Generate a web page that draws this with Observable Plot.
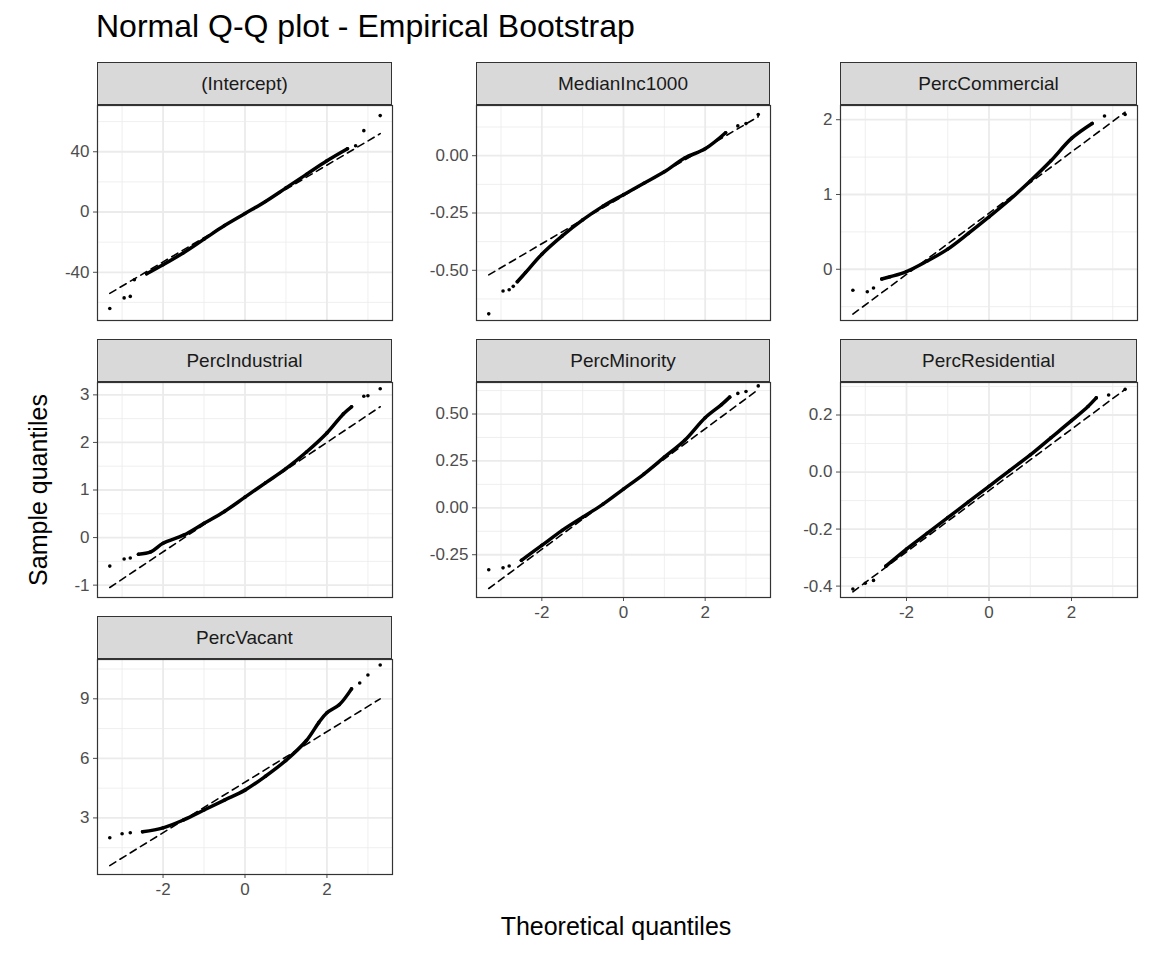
<!DOCTYPE html>
<html>
<head>
<meta charset="utf-8">
<script src="https://cdn.jsdelivr.net/npm/d3@7"></script>
<script src="https://cdn.jsdelivr.net/npm/@observablehq/plot@0.6"></script>
<style>
  body { margin: 0; background: #fff; font-family: "Liberation Sans", Arial, sans-serif; }
  #root { position: relative; width: 1152px; height: 960px; }
  .title { position: absolute; left: 96px; top: 8px; font-size: 32px; color: #000; }
  .xlab { position: absolute; left: 0; width: 1232px; top: 912px; text-align: center; font-size: 25px; }
  .ylab { position: absolute; left: 38px; top: 490px; font-size: 25px; transform: translate(-50%, -50%) rotate(-90deg); white-space: nowrap; }
  .strip { position: absolute; background: #d9d9d9; border: 1px solid #333; box-sizing: border-box;
           text-align: center; font-size: 19px; color: #1a1a1a; line-height: 41px; }
  .panel { position: absolute; }
</style>
</head>
<body>
<div id="root">
  <div class="title">Normal Q-Q plot - Empirical Bootstrap</div>
  <div class="ylab">Sample quantiles</div>
  <div class="xlab">Theoretical quantiles</div>
</div>
<script>
// ── data: theoretical quantile (x) vs sample quantile (y)
const PANELS = ["(Intercept)", "MedianInc1000", "PercCommercial", "PercIndustrial",
                "PercMinority", "PercResidential", "PercVacant"];

const interceptX = [-3.3, -2.95, -2.8, -2.7, -2.4, -2, -1.5, -1, -0.5, 0, 0.5, 1, 1.5, 2, 2.5, 2.7, 2.9, 3.3];
const interceptY = [-64, -57, -56, -45, -41, -35, -27, -18, -9, -1, 7, 16, 25, 34, 42, 44, 54, 64];
const interceptLine = [-54, 52];

const medianX = [-3.3, -2.95, -2.8, -2.7, -2.6, -2.4, -2, -1.5, -1, -0.5, 0, 0.5, 1, 1.5, 2, 2.5, 2.8, 3.0, 3.3];
const medianY = [-0.69, -0.59, -0.585, -0.57, -0.55, -0.51, -0.43, -0.35, -0.28, -0.22, -0.17, -0.12, -0.07, -0.01, 0.03, 0.10, 0.13, 0.14, 0.18];
const medianLine = [-0.52, 0.17];

const commercialX = [-3.3, -2.95, -2.8, -2.6, -2.4, -2, -1.5, -1, -0.5, 0, 0.5, 1, 1.5, 2, 2.5, 2.8, 3.3];
const commercialY = [-0.28, -0.30, -0.25, -0.13, -0.10, -0.03, 0.11, 0.27, 0.48, 0.70, 0.93, 1.18, 1.45, 1.75, 1.95, 2.05, 2.07];
const commercialLine = [-0.60, 2.10];

const industrialX = [-3.3, -2.95, -2.8, -2.6, -2.3, -2, -1.5, -1, -0.5, 0, 0.5, 1, 1.5, 2, 2.4, 2.6, 2.9, 3.0, 3.3];
const industrialY = [-0.60, -0.45, -0.43, -0.35, -0.30, -0.12, 0.05, 0.30, 0.55, 0.85, 1.15, 1.45, 1.80, 2.20, 2.60, 2.75, 2.97, 2.98, 3.13];
const industrialLine = [-1.05, 2.75];

const minorityX = [-3.3, -2.95, -2.8, -2.5, -2, -1.5, -1, -0.5, 0, 0.5, 1, 1.5, 2, 2.4, 2.6, 2.8, 3.0, 3.3];
const minorityY = [-0.33, -0.32, -0.31, -0.28, -0.20, -0.12, -0.05, 0.02, 0.10, 0.18, 0.27, 0.36, 0.48, 0.55, 0.59, 0.61, 0.62, 0.65];
const minorityLine = [-0.43, 0.63];

const residentialX = [-3.3, -3.0, -2.8, -2.5, -2, -1.5, -1, -0.5, 0, 0.5, 1, 1.5, 2, 2.4, 2.6, 2.9, 3.3];
const residentialY = [-0.41, -0.39, -0.38, -0.33, -0.27, -0.215, -0.16, -0.105, -0.05, 0.005, 0.06, 0.12, 0.18, 0.23, 0.26, 0.27, 0.29];
const residentialLine = [-0.42, 0.29];

const vacantX = [-3.3, -3.0, -2.8, -2.5, -2, -1.5, -1, -0.5, 0, 0.5, 1, 1.5, 1.8, 2, 2.3, 2.6, 2.8, 3.0, 3.3];
const vacantY = [2.0, 2.2, 2.25, 2.3, 2.5, 2.9, 3.4, 3.9, 4.4, 5.1, 5.9, 6.9, 7.8, 8.3, 8.7, 9.5, 9.8, 10.2, 10.7];
const vacantLine = [0.6, 9.0];

const LINE_X = [-3.3, 3.3];

const yTicks = {
  "(Intercept)": [-40, 0, 40],
  "MedianInc1000": [-0.5, -0.25, 0],
  "PercCommercial": [0, 1, 2],
  "PercIndustrial": [-1, 0, 1, 2, 3],
  "PercMinority": [-0.25, 0, 0.25, 0.5],
  "PercResidential": [-0.4, -0.2, 0, 0.2],
  "PercVacant": [3, 6, 9]
};
const yDomains = {
  "(Intercept)": [-72, 70.7],
  "MedianInc1000": [-0.719, 0.219],
  "PercCommercial": [-0.685, 2.19],
  "PercIndustrial": [-1.26, 3.26],
  "PercMinority": [-0.478, 0.668],
  "PercResidential": [-0.44, 0.314],
  "PercVacant": [0.15, 10.98]
};
const fmt = d3.formatLocale({decimal: ".", thousands: ",", grouping: [3], currency: ["", ""], minus: "-"}).format;
const yFormats = {
  "(Intercept)": fmt("d"),
  "MedianInc1000": fmt(".2f"),
  "PercCommercial": fmt("d"),
  "PercIndustrial": fmt("d"),
  "PercMinority": fmt(".2f"),
  "PercResidential": fmt(".1f"),
  "PercVacant": fmt("d")
};
const series = {
  "(Intercept)": [interceptX, interceptY, interceptLine],
  "MedianInc1000": [medianX, medianY, medianLine],
  "PercCommercial": [commercialX, commercialY, commercialLine],
  "PercIndustrial": [industrialX, industrialY, industrialLine],
  "PercMinority": [minorityX, minorityY, minorityLine],
  "PercResidential": [residentialX, residentialY, residentialLine],
  "PercVacant": [vacantX, vacantY, vacantLine]
};

// ── layout (pixels)
const COL_LEFT  = [97, 476, 840];
const COL_W     = [295, 294, 297];
const ROW_TOP   = [62, 339, 616];
const STRIP_H   = 43;
const PLOT_H    = 215;
const ML = 70;

const root = document.getElementById("root");

PANELS.forEach((name, i) => {
  const col = i % 3, row = Math.floor(i / 3);
  const showX = (row === 2) || (row === 1 && col > 0);
  const [xs, ys, ln] = series[name];
  const pts = xs.map((x, k) => ({x, y: ys[k]}));
  const core = pts.filter(d => Math.abs(d.x) < 2.65);
  const line = LINE_X.map((x, k) => ({x, y: ln[k]}));

  const strip = document.createElement("div");
  strip.className = "strip";
  strip.style.left = COL_LEFT[col] + "px";
  strip.style.top = ROW_TOP[row] + "px";
  strip.style.width = COL_W[col] + "px";
  strip.style.height = STRIP_H + "px";
  strip.textContent = name;
  root.appendChild(strip);

  const yd = yDomains[name];
  const yMinor = d3.pairs(yTicks[name]).map(([a, b]) => (a + b) / 2);
  const step = yTicks[name][1] - yTicks[name][0];
  yMinor.unshift(yTicks[name][0] - step / 2);
  yMinor.push(yTicks[name][yTicks[name].length - 1] + step / 2);

  const chart = Plot.plot({
    width: ML + COL_W[col],
    height: PLOT_H + (showX ? 34 : 0),
    marginLeft: ML, marginRight: 0, marginTop: 0, marginBottom: showX ? 34 : 0,
    style: {fontFamily: "Liberation Sans, Arial, sans-serif", fontSize: "17px", color: "#4d4d4d", overflow: "visible"},
    x: {domain: [-3.6, 3.6], ticks: [-2, 0, 2], label: null, axis: showX ? "bottom" : null, tickSize: 4, tickPadding: 4, tickFormat: fmt("d")},
    y: {domain: yd, ticks: yTicks[name], label: null, tickSize: 4, tickPadding: 4, tickFormat: yFormats[name]},
    marks: [
      Plot.ruleX([-3, -1, 1, 3], {stroke: "#ebebeb", strokeWidth: 0.8}),
      Plot.ruleY(yMinor.filter(v => v > yd[0] && v < yd[1]), {stroke: "#ebebeb", strokeWidth: 0.8}),
      Plot.ruleX([-2, 0, 2], {stroke: "#ebebeb", strokeWidth: 1.8}),
      Plot.ruleY(yTicks[name], {stroke: "#ebebeb", strokeWidth: 1.8}),
      Plot.line(line, {x: "x", y: "y", stroke: "#000", strokeWidth: 1.6, strokeDasharray: "7,5"}),
      Plot.line(core, {x: "x", y: "y", stroke: "#000", strokeWidth: 3.5, curve: "catmull-rom"}),
      Plot.dot(pts, {x: "x", y: "y", r: 1.8, fill: "#000", stroke: null}),
      Plot.frame({stroke: "#333", strokeWidth: 1.2})
    ]
  });
  d3.select(chart).selectAll("g[aria-label$='axis'] text").attr("fill", "#4d4d4d");
  const div = document.createElement("div");
  div.className = "panel";
  div.style.left = (COL_LEFT[col] - ML) + "px";
  div.style.top = (ROW_TOP[row] + STRIP_H) + "px";
  div.appendChild(chart);
  root.appendChild(div);
});
</script>
</body>
</html>
